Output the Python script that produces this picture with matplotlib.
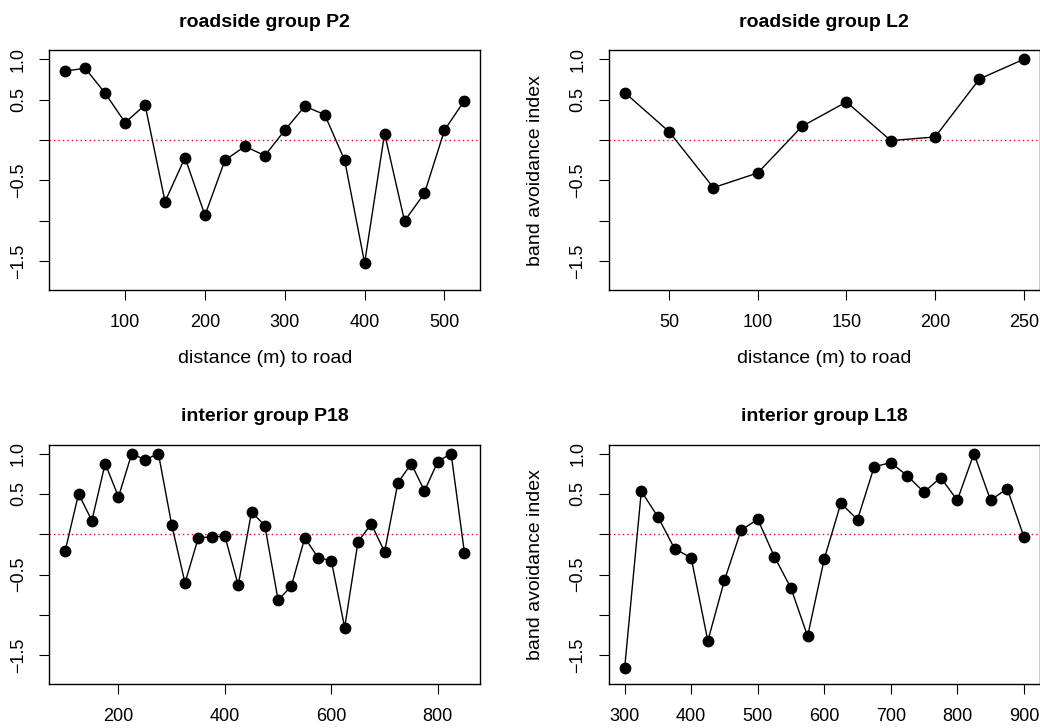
import matplotlib
matplotlib.use("Agg")
import matplotlib.pyplot as plt
import numpy as np

plt.rcParams['font.family'] = ['Liberation Sans', 'DejaVu Sans']
plt.rcParams['axes.unicode_minus'] = True

# roadside group P2
p2_x = [25, 50, 75, 100, 125, 150, 175, 200, 225, 250, 275, 300, 325, 350, 375,
        400, 425, 450, 475, 500, 525]
p2_y = [0.855, 0.888, 0.579, 0.215, 0.434, -0.764, -0.219, -0.934, -0.252, -0.079,
        -0.194, 0.120, 0.417, 0.314, -0.252, -1.525, 0.079, -1.004, -0.661, 0.120, 0.488]

# roadside group L2
l2_x = [25, 50, 75, 100, 125, 150, 175, 200, 225, 250]
l2_y = [0.587, 0.103, -0.591, -0.409, 0.169, 0.471, -0.008, 0.037, 0.756, 1.0]

# interior group P18
p18_x = [100, 125, 150, 175, 200, 225, 250, 275, 300, 325, 350, 375, 400, 425, 450,
         475, 500, 525, 550, 575, 600, 625, 650, 675, 700, 725, 750, 775, 800, 825, 850]
p18_y = [-0.202, 0.5, 0.169, 0.876, 0.463, 1.0, 0.921, 1.0, 0.116, -0.603, -0.045,
         -0.033, -0.025, -0.632, 0.277, 0.107, -0.818, -0.640, -0.045, -0.289, -0.331,
         -1.157, -0.095, 0.128, -0.219, 0.636, 0.876, 0.537, 0.901, 1.0, -0.227]

# interior group L18
l18_x = [300, 325, 350, 375, 400, 425, 450, 475, 500, 525, 550, 575, 600, 625, 650,
         675, 700, 725, 750, 775, 800, 825, 850, 875, 900]
l18_y = [-1.657, 0.533, 0.215, -0.178, -0.293, -1.322, -0.570, 0.050, 0.186, -0.277,
         -0.669, -1.264, -0.306, 0.384, 0.182, 0.835, 0.888, 0.723, 0.521, 0.702,
         0.421, 1.0, 0.421, 0.566, -0.029]

y_ticks = [-1.5, -1.0, -0.5, 0.0, 0.5, 1.0]
y_labels = ['\u22121.5', '', '\u22120.5', '', '0.5', '1.0']

panels = [
    ("roadside group P2", p2_x, p2_y, [100, 200, 300, 400, 500], [0.0474, 0.6016], True, False),
    ("roadside group L2", l2_x, l2_y, [50, 100, 150, 200, 250], [0.5853, 0.6016], True, True),
    ("interior group P18", p18_x, p18_y, [200, 400, 600, 800], [0.0474, 0.0600], False, False),
    ("interior group L18", l18_x, l18_y, [300, 400, 500, 600, 700, 800, 900], [0.5853, 0.0600], False, True),
]

fig = plt.figure(figsize=(10.4, 7.28), dpi=100)

for title, x, y, xt, pos, xlab, ylab in panels:
    ax = fig.add_axes([pos[0], pos[1], 0.4145, 0.3292])
    ax.plot(x, y, color='black', lw=1.0, marker='o', markersize=7.5, zorder=3)
    ax.axhline(0, color='red', lw=1.0, linestyle=(0, (1, 2.2)), zorder=2)
    span = x[-1] - x[0]
    ax.set_xlim(x[0] - 0.04 * span, x[-1] + 0.04 * span)
    ax.set_ylim(-1.75 - 0.04 * 2.75, 1.0 + 0.04 * 2.75)
    ax.set_xticks(xt)
    ax.set_xticklabels([str(v) for v in xt])
    ax.set_yticks(y_ticks)
    ax.set_yticklabels(y_labels, rotation=90, va='center')
    ax.tick_params(direction='out', length=7, width=0.8, labelsize=13, pad=9)
    ax.tick_params(axis='x', pad=10)
    for s in ax.spines.values():
        s.set_linewidth(1.0)
    ax.set_title(title, fontsize=14, fontweight='bold', pad=17)
    if xlab:
        ax.set_xlabel("distance (m) to road", fontsize=14, labelpad=14)
    if ylab:
        ax.set_ylabel("band avoidance index", fontsize=14, labelpad=18)

fig.savefig("out.png", dpi=100)
